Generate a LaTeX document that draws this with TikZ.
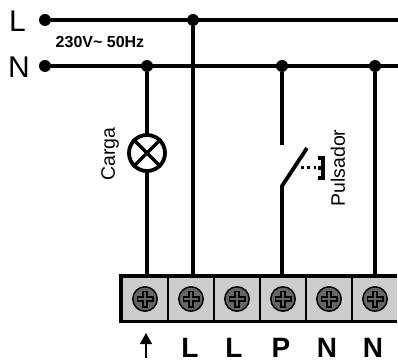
\documentclass[tikz,border=0pt]{standalone}
\usepackage{fontspec}
\setmainfont{Liberation Sans}
\usetikzlibrary{arrows.meta}
\tikzset{
 wire/.style={line width=3.8pt,black},
 dotj/.style={circle,fill=black,inner sep=0pt,minimum size=12pt},
 bigdot/.style={circle,fill=black,inner sep=0pt,minimum size=12pt},
 termlabel/.style={font=\fontsize{28}{28}\selectfont\bfseries,inner sep=0pt,anchor=base},
 linelabel/.style={font=\fontsize{30}{30}\selectfont,inner sep=0pt},
 sidelabel/.style={font=\fontsize{19.5}{19.5}\selectfont,inner sep=0pt,rotate=90},
}
\newcommand{\screw}[2]{%
 \fill[black!60,draw=black,line width=1.5pt] (#1,#2) circle (12.2);
 \draw[black,line width=5.4pt] (#1-8.5,#2)--(#1+8.5,#2) (#1,#2-8.5)--(#1,#2+8.5);
 \draw[black!60,line width=2.6pt] (#1-7.2,#2)--(#1+7.2,#2) (#1,#2-7.2)--(#1,#2+7.2);
}
\begin{document}
\begin{tikzpicture}[x=1pt,y=-1pt]
\useasboundingbox (0,0) rectangle (398,363);
\fill[white] (0,0) rectangle (398,363);
\node[bigdot] (dl) at (45,20) {};
\node[bigdot] (dn) at (45,66) {};
\coordinate (el) at (398,20);
\coordinate (en) at (398,66);
\node[dotj] (j1) at (193,20) {};
\node[dotj] (j2) at (147,66) {};
\node[dotj] (j3) at (282,66) {};
\node[dotj] (j4) at (375,66) {};
\coordinate (t1) at (147,276);
\coordinate (t2) at (193,276);
\coordinate (t4) at (282,276);
\coordinate (t6) at (375,276);
\coordinate (s1) at (282,145);
\coordinate (s2) at (282,186);
\coordinate (s3) at (307,148);
\node[circle,draw=black,line width=3.8pt,minimum size=36pt,inner sep=0pt] (lamp) at (147,153) {};
\draw[wire] (dl)--(el);
\draw[wire] (dn)--(en);
\draw[wire] (j1)--(t2);
\draw[wire] (j2)--(lamp);
\draw[wire] (lamp)--(t1);
\draw[wire] (j3)--(s1);
\draw[wire,line join=miter] (t4)--(s2)--(s3);
\draw[wire] (j4)--(t6);
\draw[line width=3.2pt] (lamp.north west)--(lamp.south east) (lamp.north east)--(lamp.south west);
\draw[black,line width=3pt,dash pattern=on 3pt off 3.4pt] (301,168)--(316,168);
\draw[black,line width=3.4pt] (318,158)--(323,158)--(323,178)--(318,178);
\draw[black,line width=3.4pt] (318,168)--(323,168);
\fill[black] (119,274) rectangle (397,323);
\foreach \x in {145,191,237,283,329,375}{
  \fill[black!20] (\x-21.6,278.4) rectangle (\x+21.6,319.6);
  \screw{\x}{299}
}
\node[linelabel] (ll) at (17.5,21) {L};
\node[linelabel] (ln) at (19,67) {N};
\node[font=\fontsize{16}{16}\selectfont\bfseries,inner sep=0pt] (volt) at (100,42) {230V\textasciitilde{} 50Hz};
\node[sidelabel] (carga) at (110,154) {Carga};
\node[sidelabel] (puls) at (338,168) {Pulsador};
\node[termlabel] (b2) at (190,357) {L};
\node[termlabel] (b3) at (234,357) {L};
\node[termlabel] (b4) at (281,357) {P};
\node[termlabel] (b5) at (327,357) {N};
\node[termlabel] (b6) at (373,357) {N};
\coordinate (a1) at (146,358);
\coordinate (a2) at (146,333);
\draw[line width=1.2pt,-{Triangle[length=11pt,width=12pt]}] (a1)--(a2);
\end{tikzpicture}
\end{document}
